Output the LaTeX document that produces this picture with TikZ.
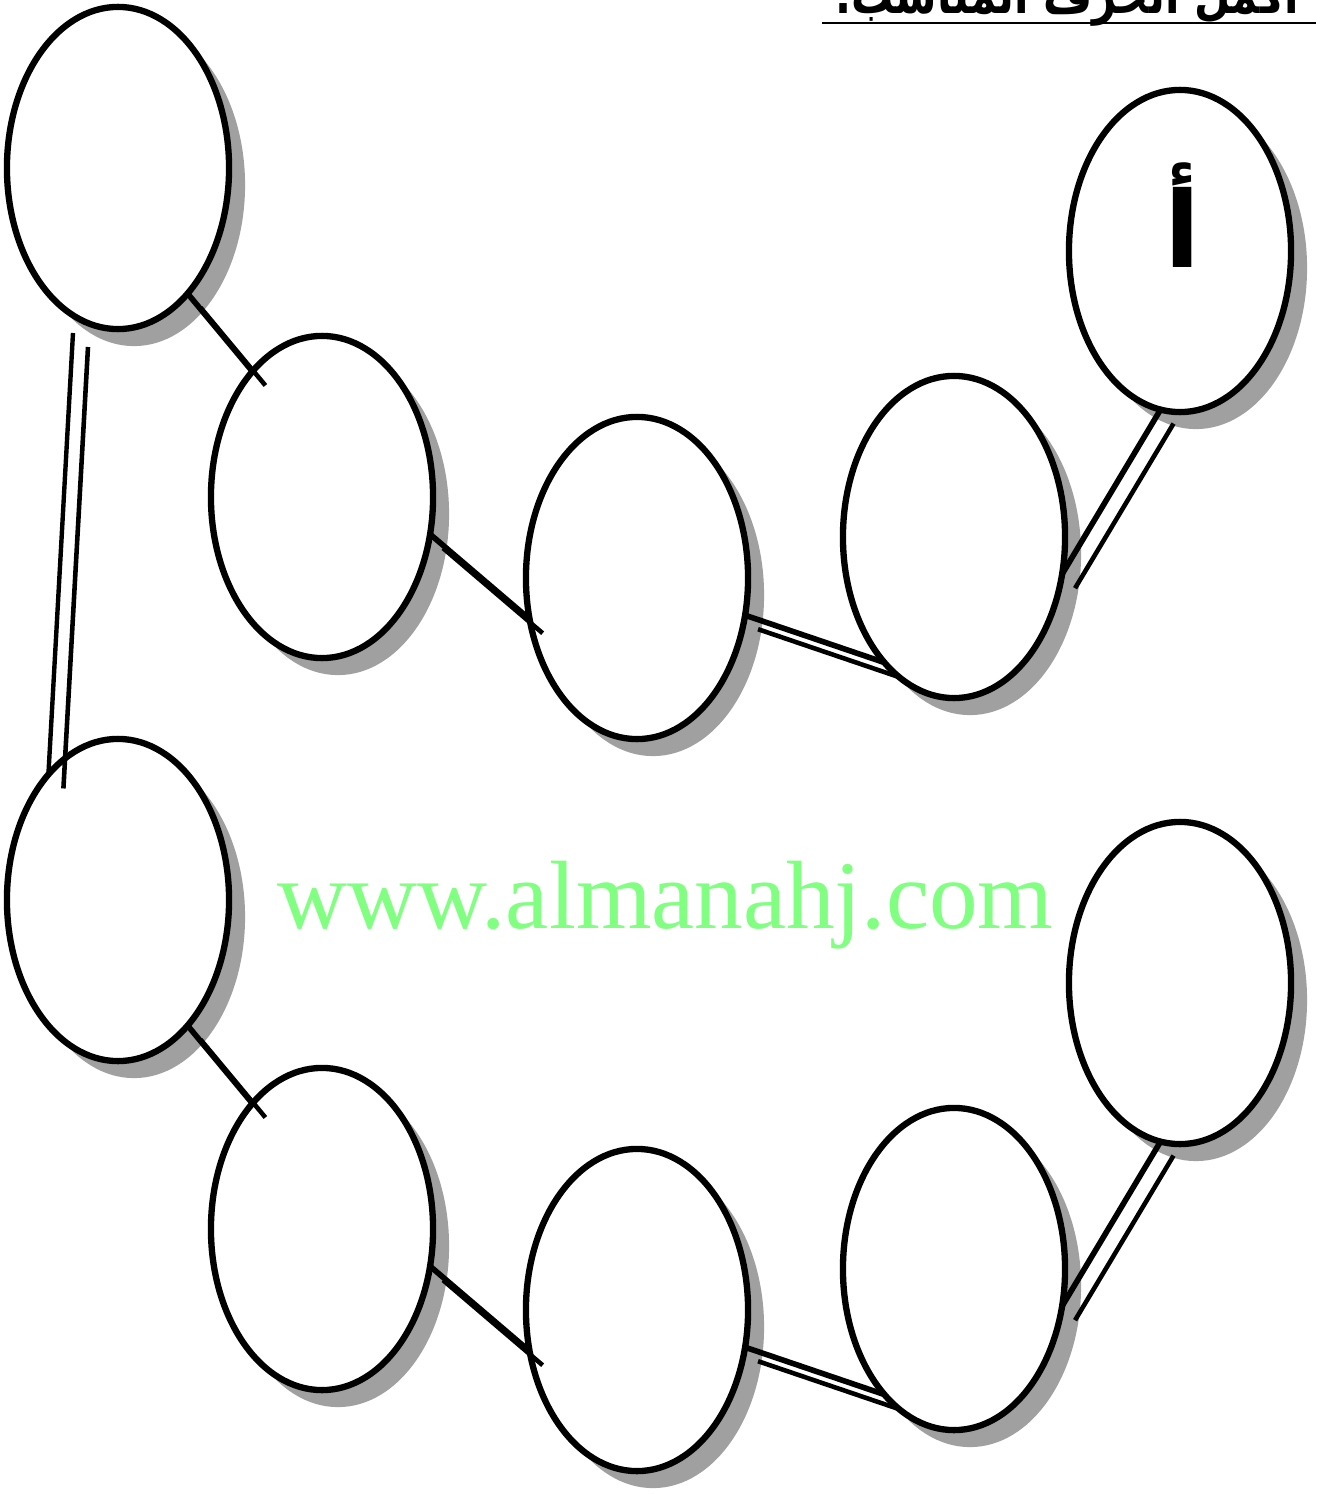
\documentclass[tikz,border=0pt]{standalone}
\usepackage{fontspec}
\newfontfamily\arabicfont[Script=Arabic]{DejaVu Sans}
\newfontfamily\webfont{Liberation Serif}
\TeXXeTstate=1
\usetikzlibrary{shapes.geometric,shadows}

\definecolor{shade}{RGB}{160,160,160}
\definecolor{mark}{RGB}{128,255,128}

\begin{document}
\begin{tikzpicture}[x=0.01cm,y=-0.01cm,
    ring/.style={ellipse,draw,line width=1.8pt,fill=white,inner sep=0pt,outer sep=0pt,
        minimum width=2.22cm,minimum height=3.22cm,
        drop shadow={shadow xshift=0.16cm,shadow yshift=-0.17cm,fill=shade,opacity=1}},
    link/.style={line width=1.6pt},
    linkshade/.style={shade,line width=1.3pt}]
    \useasboundingbox (0,0) rectangle (1320,1494);
    \clip (0,0) rectangle (1320,1494);
    % two rows of rings
    \foreach \row/\dy in {a/0,b/732}{
        \foreach \n/\x/\y in {1/118/168,2/322/497,3/637/578,4/954/537,5/1180/251}{
            \node[ring] (\row\n) at (\x,\y+\dy) {};
        }
    }
    % links inside each row
    \foreach \row in {a,b}{
        \foreach \s/\sa/\t/\ta in {1/-61/2/119,2/-19/3/-159,3/-19/4/-119,4/-19/5/-97}{
            \draw[linkshade] ([shift={(13,14)}]\row\s.\sa) -- ([shift={(13,14)}]\row\t.\ta);
            \draw[link] (\row\s.\sa) -- (\row\t.\ta);
        }
    }
    % link between the rows
    \coordinate (drop) at (73,333);
    \draw[linkshade] ([shift={(15,14)}]drop) -- ([shift={(15,14)}]b1.119);
    \draw[line width=1.25pt] (drop) -- (b1.119);
    % texts
    \node[font=\arabicfont\bfseries\fontsize{30}{30}\selectfont] (alif) at (1183,215) {\beginR أ\endR};
    \node[anchor=base east,font=\arabicfont\bfseries\fontsize{15}{15}\selectfont,inner sep=0pt] (title)
        at (1300,14) {\scalebox{0.8}[1]{\beginR أكمل الحرف المناسب.\endR}};
    \draw[line width=0.75pt] (822,23) -- (1316,23);
    \node[anchor=base west,text=mark,inner sep=0pt,font=\webfont\fontsize{27.6}{27.6}\selectfont] (site)
        at (277,928) {www.almanahj.com};
\end{tikzpicture}
\end{document}
